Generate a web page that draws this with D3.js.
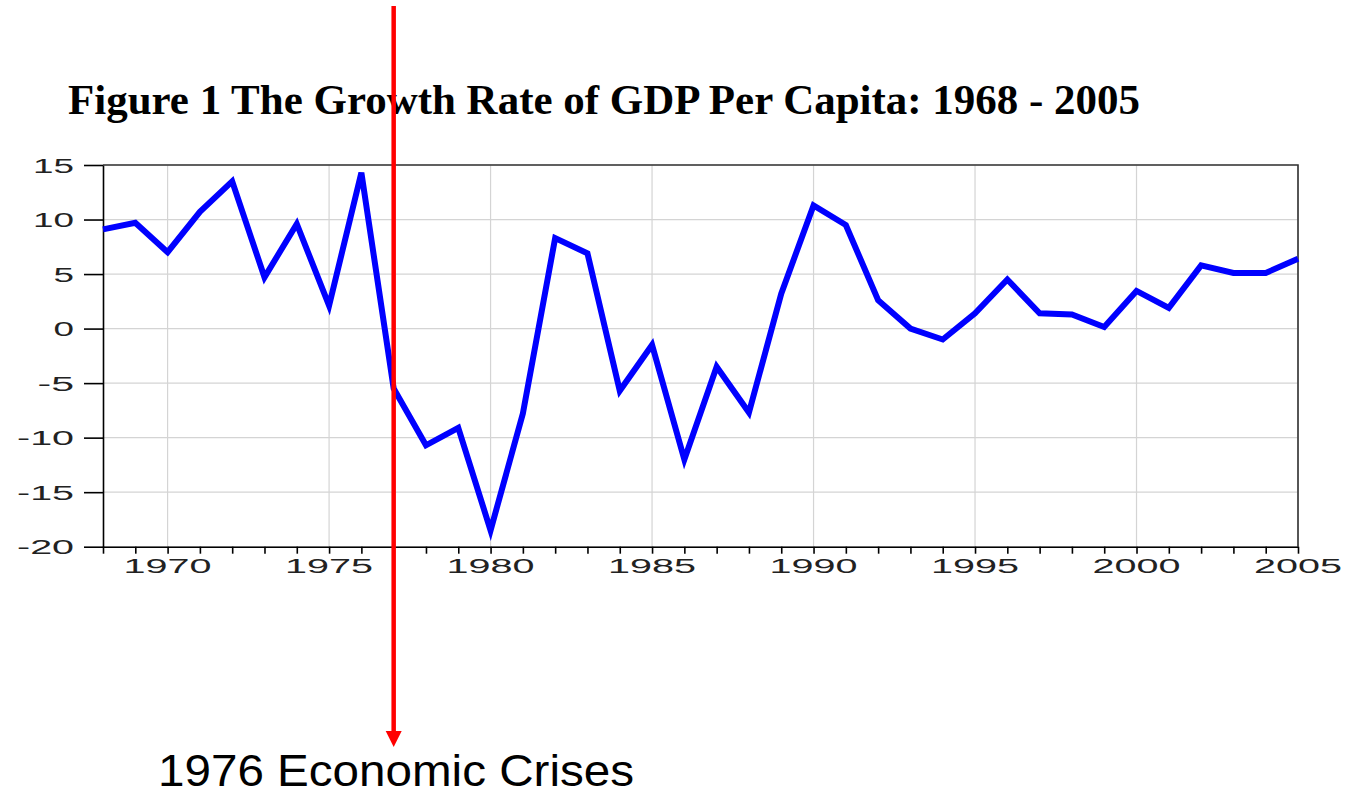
<!DOCTYPE html>
<html lang="en">
<head>
<meta charset="UTF-8">
<title>Figure 1 The Growth Rate of GDP Per Capita: 1968 - 2005</title>
<script src="https://d3js.org/d3.v7.min.js"></script>
<style>
  body { margin: 0; background: #fff; }
  .title { font-family: "Liberation Serif", "Times New Roman", serif; font-weight: bold; font-size: 43px; fill: #000; }
  .tick-label { font-family: "Liberation Sans", Arial, sans-serif; font-size: 19.5px; fill: #222; }
  .note { font-family: "Liberation Sans", Arial, sans-serif; font-size: 45px; fill: #000; }
</style>
</head>
<body>
<svg id="chart" width="1350" height="796"></svg>
<script>
// years on the x axis
const years = [1968, 1969, 1970, 1971, 1972, 1973, 1974, 1975, 1976, 1977,
               1978, 1979, 1980, 1981, 1982, 1983, 1984, 1985, 1986, 1987,
               1988, 1989, 1990, 1991, 1992, 1993, 1994, 1995, 1996, 1997,
               1998, 1999, 2000, 2001, 2002, 2003, 2004, 2005];
// growth rate of GDP per capita (%)
const growth = [9.1, 9.7, 7.0, 10.7, 13.5, 4.7, 9.6, 2.1, 14.3, -5.5,
                -10.7, -9.1, -18.5, -7.8, 8.3, 6.9, -5.7, -1.5, -12.0, -3.5,
                -7.7, 3.2, 11.3, 9.5, 2.6, 0.0, -1.0, 1.4, 4.5, 1.4,
                1.3, 0.15, 3.45, 1.9, 5.8, 5.1, 5.1, 6.4];
const yTicks = [15, 10, 5, 0, -5, -10, -15, -20];
const xLabelTicks = [1970, 1975, 1980, 1985, 1990, 1995, 2000, 2005];
const crisisYear = 1977;   // where the red arrow sits on the time axis
const crisisText = "1976 Economic Crises";
const titleText = "Figure 1 The Growth Rate of GDP Per Capita: 1968 - 2005";

const plot = { left: 103, right: 1298, top: 165, bottom: 546.7 };

const svg = d3.select("#chart");

const x = d3.scaleLinear().domain([1968, 2005]).range([plot.left, plot.right]);
const y = d3.scaleLinear().domain([-20, 15]).range([plot.bottom, plot.top]);

svg.append("text")
  .attr("class", "title")
  .attr("x", 68).attr("y", 114)
  .attr("textLength", 1072).attr("lengthAdjust", "spacingAndGlyphs")
  .text(titleText);

// grid
const grid = svg.append("g");
grid.selectAll("line.h").data(yTicks).join("line")
  .attr("x1", plot.left).attr("x2", plot.right)
  .attr("y1", d => y(d)).attr("y2", d => y(d))
  .attr("stroke", "#d4d4d4").attr("stroke-width", 1.2);
grid.selectAll("line.v").data(xLabelTicks).join("line")
  .attr("x1", d => x(d)).attr("x2", d => x(d))
  .attr("y1", plot.top).attr("y2", plot.bottom)
  .attr("stroke", "#d4d4d4").attr("stroke-width", 1.2);

// frame top + right
svg.append("path")
  .attr("d", `M${plot.left},${plot.top}H${plot.right}V${plot.bottom}`)
  .attr("fill", "none").attr("stroke", "#333").attr("stroke-width", 1.6);

// left axis
const yAxis = svg.append("g")
  .attr("transform", `translate(${plot.left},0)`)
  .call(d3.axisLeft(y).tickValues(yTicks).tickSize(19).tickPadding(10).tickSizeOuter(0));
yAxis.select(".domain").attr("stroke", "#000").attr("stroke-width", 1.6);
yAxis.selectAll(".tick line").attr("stroke", "#000").attr("stroke-width", 1.6);
yAxis.selectAll(".tick text")
  .attr("class", "tick-label")
  .attr("dy", "0.36em")
  .attr("textLength", d => String(Math.abs(d)).length * 20.5 + (d < 0 ? 16 : 0))
  .attr("lengthAdjust", "spacingAndGlyphs")
  .text(d => d < 0 ? "-" + Math.abs(d) : d);
yAxis.attr("font-family", null).attr("font-size", null);

// bottom axis: minor ticks every year, labels every five years
const xAxis = svg.append("g")
  .attr("transform", `translate(0,${plot.bottom})`)
  .call(d3.axisBottom(x).tickValues(years).tickSize(7).tickSizeOuter(0).tickFormat(""));
xAxis.select(".domain").attr("stroke", "#000").attr("stroke-width", 1.6);
xAxis.selectAll(".tick line").attr("stroke", "#000").attr("stroke-width", 1.6);

svg.append("g").selectAll("text").data(xLabelTicks).join("text")
  .attr("class", "tick-label")
  .attr("x", d => x(d)).attr("y", 573)
  .attr("text-anchor", "middle")
  .attr("textLength", 88).attr("lengthAdjust", "spacingAndGlyphs")
  .text(d => d);

// series
const line = d3.line().x((d, i) => x(years[i])).y(d => y(d));
svg.append("path")
  .datum(growth)
  .attr("d", line)
  .attr("fill", "none")
  .attr("stroke", "#0000ff")
  .attr("stroke-width", 6)
  .attr("stroke-linejoin", "miter");

// crisis arrow
const ax = x(crisisYear);
svg.append("line")
  .attr("x1", ax).attr("x2", ax)
  .attr("y1", 6).attr("y2", 733)
  .attr("stroke", "#ff0000").attr("stroke-width", 4.5);
svg.append("path")
  .attr("d", `M${ax - 8},731L${ax + 8},731L${ax},747Z`)
  .attr("fill", "#ff0000");

svg.append("text")
  .attr("class", "note")
  .attr("x", 158).attr("y", 786)
  .attr("textLength", 476).attr("lengthAdjust", "spacingAndGlyphs")
  .text(crisisText);
</script>
</body>
</html>
